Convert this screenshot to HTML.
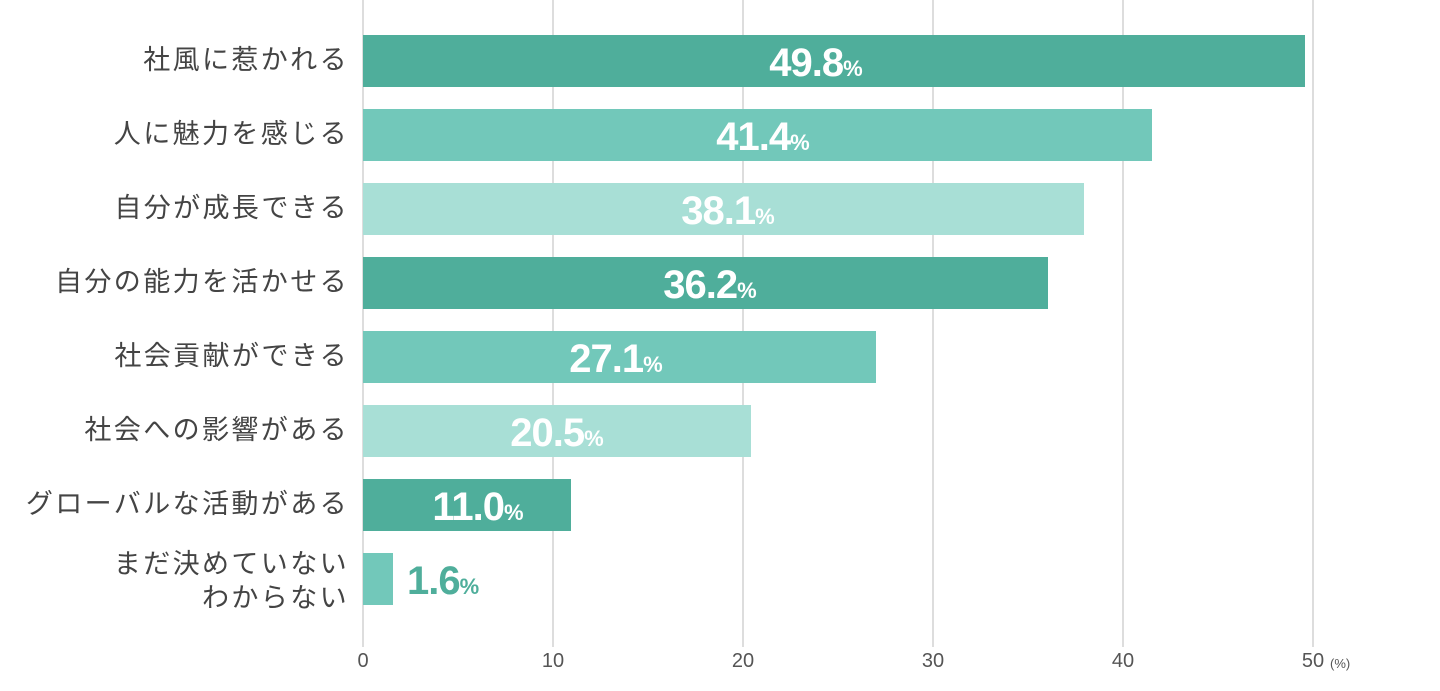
<!DOCTYPE html>
<html><head><meta charset="utf-8"><style>
body{margin:0;background:#fff;width:1440px;height:691px;overflow:hidden;position:relative;font-family:"Liberation Sans","Noto Sans CJK JP",sans-serif}
.g{position:absolute;top:0;height:647px;width:2px;background:#ddd}
.bar{position:absolute;left:363px;height:52px}
.v{position:absolute;height:52px;line-height:52px;color:#fff;font-weight:bold;font-size:40px;letter-spacing:-1px;text-align:center;white-space:nowrap}
.v span{font-size:22px;letter-spacing:0}
.lab{position:absolute;right:1091px;color:#444;font-size:27px;text-align:right;white-space:nowrap;line-height:32px;letter-spacing:2.4px}
.t{position:absolute;top:650px;color:#555;font-size:20px;width:60px;text-align:center}
</style></head><body>
<div class="g" style="left:362px"></div>
<div class="g" style="left:552px"></div>
<div class="g" style="left:742px"></div>
<div class="g" style="left:932px"></div>
<div class="g" style="left:1122px"></div>
<div class="g" style="left:1312px"></div>

<div class="bar" style="top:35px;width:942px;background:#4fae9b"></div>
<div class="bar" style="top:109px;width:789px;background:#72c8ba"></div>
<div class="bar" style="top:183px;width:721px;background:#a8dfd6"></div>
<div class="bar" style="top:257px;width:685px;background:#4fae9b"></div>
<div class="bar" style="top:331px;width:513px;background:#72c8ba"></div>
<div class="bar" style="top:405px;width:388px;background:#a8dfd6"></div>
<div class="bar" style="top:479px;width:208px;background:#4fae9b"></div>
<div class="bar" style="top:553px;width:30px;background:#72c8ba"></div>

<div class="v" style="top:37px;left:716px;width:200px">49.8<span>%</span></div>
<div class="v" style="top:111px;left:663px;width:200px">41.4<span>%</span></div>
<div class="v" style="top:185px;left:628px;width:200px">38.1<span>%</span></div>
<div class="v" style="top:259px;left:610px;width:200px">36.2<span>%</span></div>
<div class="v" style="top:333px;left:516px;width:200px">27.1<span>%</span></div>
<div class="v" style="top:407px;left:457px;width:200px">20.5<span>%</span></div>
<div class="v" style="top:481px;left:378px;width:200px">11.0<span>%</span></div>
<div class="v" style="top:555px;left:407px;color:#4fae9b;text-align:left">1.6<span>%</span></div>

<div class="lab" style="top:44px">社風に惹かれる</div>
<div class="lab" style="top:118px">人に魅力を感じる</div>
<div class="lab" style="top:192px">自分が成長できる</div>
<div class="lab" style="top:266px">自分の能力を活かせる</div>
<div class="lab" style="top:340px">社会貢献ができる</div>
<div class="lab" style="top:414px">社会への影響がある</div>
<div class="lab" style="top:488px">グローバルな活動がある</div>
<div class="lab" style="top:547px;line-height:34px">まだ決めていない<br>わからない</div>

<div class="t" style="left:333px">0</div>
<div class="t" style="left:523px">10</div>
<div class="t" style="left:713px">20</div>
<div class="t" style="left:903px">30</div>
<div class="t" style="left:1093px">40</div>
<div class="t" style="left:1283px">50</div>
<div style="position:absolute;left:1330px;top:656px;font-size:13px;color:#555">(%)</div>
</body></html>
